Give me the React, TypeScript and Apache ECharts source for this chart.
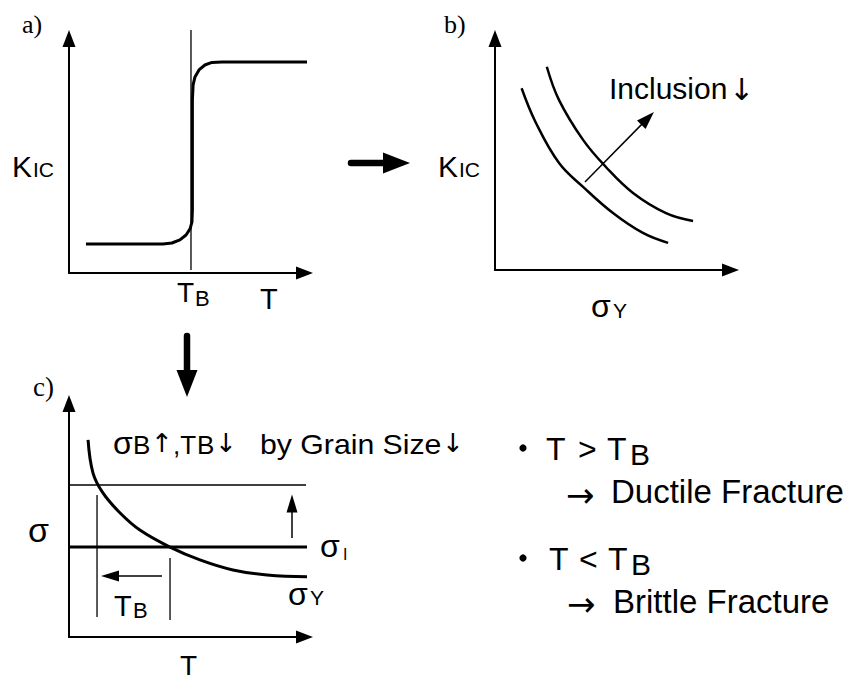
import React, { useEffect, useRef } from "react";
import * as echarts from "echarts";

// ---------- Panel a) : K_IC versus T (ductile-brittle transition) ----------
const aT = [0.72, 3.99, 4.37, 4.71, 4.97, 5.14, 5.22, 5.24, 5.24, 5.27, 5.35, 5.52, 5.77, 6.07, 6.5, 10.45];
const aK = [1.24, 1.24, 1.28, 1.41, 1.62, 1.88, 2.17, 2.69, 7.38, 8.02, 8.36, 8.66, 8.87, 8.98, 9.0, 9.0];
const aTB = 5.18;
const aTBSpan = [0.13, 10.36];

// ---------- Panel b) : K_IC versus sigma_Y ----------
const bLowX = [1.13, 1.74, 2.72, 3.74, 5.01, 6.28, 7.35];
const bLowY = [7.85, 6.35, 4.62, 3.59, 2.46, 1.6, 1.17];
const bHighX = [2.2, 2.72, 3.74, 4.71, 5.86, 7.26, 8.41];
const bHighY = [8.78, 7.34, 5.62, 4.45, 3.33, 2.46, 2.12];
const bArrowFrom = [3.82, 3.8];
const bArrowTo = [6.48, 6.55];

// ---------- Panel c) : sigma versus T ----------
const cT = [0.81, 1.02, 1.44, 2.17, 3.01, 4.29, 5.56, 6.96, 8.41, 10.53];
const cSigmaY = [8.44, 7.02, 6.17, 5.31, 4.58, 3.85, 3.3, 2.87, 2.66, 2.57];
const cSigmaLow = 3.85;
const cSigmaHigh = 6.51;
const cLowEnd = 10.45;
const cHighEnd = 10.36;
const cTBx = [1.19, 4.29];
const cTBSpan = [
  [0.86, 6.08],
  [0.73, 3.38],
];
const cLeftFrom = [3.95, 2.61];
const cLeftTo = [1.74, 2.61];
const cUpFrom = [9.47, 4.24];
const cUpTo = [9.47, 5.72];

const SANS = '"Liberation Sans", Arial, Helvetica, sans-serif';
const SERIF = '"Liberation Serif", "Times New Roman", serif';
const ARROWS = '"DejaVu Sans", sans-serif';

const pairs = (xs: number[], ys: number[]) => xs.map((x, i) => [x, ys[i]]);

const axis = (gridIndex: number) => ({
  type: "value",
  gridIndex,
  min: 0,
  max: 10,
  axisLine: {
    show: true,
    onZero: false,
    symbol: ["none", "triangle"],
    symbolSize: [13, 17],
    lineStyle: { color: "#000", width: 2 },
  },
  axisTick: { show: false },
  axisLabel: { show: false },
  splitLine: { show: false },
});

const line = (idx: number, xs: number[], ys: number[], width: number, smooth: boolean | number = false, extra: any = {}) => ({
  type: "line",
  xAxisIndex: idx,
  yAxisIndex: idx,
  data: pairs(xs, ys),
  symbol: "none",
  showSymbol: false,
  smooth,
  clip: false,
  silent: true,
  animation: false,
  lineStyle: { color: "#000", width },
  ...extra,
});

const arrowMark = (from: number[], to: number[], size: number[]) => ({
  silent: true,
  animation: false,
  symbol: ["none", "triangle"],
  symbolSize: size,
  label: { show: false },
  emphasis: { disabled: true },
  lineStyle: { color: "#000", width: 1.5, type: "solid" },
  itemStyle: { color: "#000" },
  data: [[{ coord: from }, { coord: to }]],
});

const txt = (x: number, y: number, text: string, fontSize: number, family = SANS, extra: any = {}) => ({
  type: "text",
  x,
  y,
  silent: true,
  ...extra,
  style: {
    text,
    x: 0,
    y: 0,
    fill: "#000",
    fontSize,
    fontFamily: family,
    align: "left",
    verticalAlign: "middle",
    textAlign: "left",
    textVerticalAlign: "middle",
  },
});

const option: any = {
  animation: false,
  backgroundColor: "#fff",
  grid: [
    { left: 69, top: 38.5, width: 235.5, height: 234.5 },
    { left: 495, top: 38.5, width: 235.5, height: 231.5 },
    { left: 69, top: 403.5, width: 235.5, height: 233.5 },
  ],
  xAxis: [axis(0), axis(1), axis(2)],
  yAxis: [axis(0), axis(1), axis(2)],
  series: [
    // a)
    line(0, aT, aK, 3),
    line(0, [aTB, aTB], aTBSpan, 1.3),
    // b)
    line(1, bLowX, bLowY, 2.5, 0.4),
    line(1, bHighX, bHighY, 2.5, 0.4, { markLine: arrowMark(bArrowFrom, bArrowTo, [12, 18]) }),
    // c)
    line(2, [0, cHighEnd], [cSigmaHigh, cSigmaHigh], 1.3),
    line(2, [0, cLowEnd], [cSigmaLow, cSigmaLow], 3, false, {
      markLine: {
        ...arrowMark(cLeftFrom, cLeftTo, [11, 18]),
        data: [
          [{ coord: cLeftFrom }, { coord: cLeftTo }],
          [{ coord: cUpFrom }, { coord: cUpTo }],
        ],
      },
    }),
    line(2, cT, cSigmaY, 3, 0.4),
    line(2, [cTBx[0], cTBx[0]], cTBSpan[0], 1.3),
    line(2, [cTBx[1], cTBx[1]], cTBSpan[1], 1.3),
  ],
  graphic: [
    // panel labels
    txt(22, 24, "a)", 26, SERIF),
    txt(444, 24, "b)", 26, SERIF),
    txt(33, 387, "c)", 27, SERIF),
    // a) axis titles
    txt(12, 166, "K", 30),
    txt(33, 169.5, "IC", 21),
    txt(177, 292, "T", 28),
    txt(195, 298.5, "B", 22),
    txt(260, 298.5, "T", 29),
    // b) axis titles
    txt(438, 166, "K", 30),
    txt(459, 169.5, "IC", 21),
    txt(591, 306, "σ", 32),
    txt(613, 310.5, "Y", 21),
    txt(609, 88, "Inclusion", 30),
    txt(729, 89, "↓", 30, ARROWS),
    // c) axis titles and labels
    txt(28, 530, "σ", 34),
    txt(180, 665, "T", 28),
    txt(114, 606, "T", 29),
    txt(133, 610.5, "B", 22),
    txt(288, 594, "σ", 32),
    txt(310, 597.5, "Y", 21),
    txt(320, 546, "σ", 32),
    txt(343, 554, "I", 16),
    // c) annotation
    txt(113, 442.5, "σ", 32),
    txt(133, 444.5, "B", 26),
    txt(151, 443, "↑", 26, ARROWS),
    txt(173, 444.5, ",T", 26),
    txt(197, 444.5, "B", 26),
    txt(215, 443, "↓", 26, ARROWS),
    txt(260, 444.5, "by Grain Size", 28, SANS, { scaleX: 1.08 }),
    txt(442, 443, "↓", 26, ARROWS),
    // right-hand notes
    { type: "circle", silent: true, shape: { cx: 523, cy: 448, r: 3.6 }, style: { fill: "#000" } },
    txt(546, 448.5, "T", 32),
    txt(578, 448.5, ">", 32),
    txt(607, 448.5, "T", 32),
    txt(630, 454, "B", 30),
    txt(566, 495, "→", 34, ARROWS),
    txt(611, 491.5, "Ductile Fracture", 33),
    { type: "circle", silent: true, shape: { cx: 523, cy: 558, r: 3.6 }, style: { fill: "#000" } },
    txt(549, 558.5, "T", 32),
    txt(579, 558.5, "<", 32),
    txt(608, 558.5, "T", 32),
    txt(631, 564, "B", 30),
    txt(567, 604, "→", 34, ARROWS),
    txt(613, 601.5, "Brittle Fracture", 33),
    // block arrows between panels
    {
      type: "line",
      silent: true,
      shape: { x1: 351, y1: 163, x2: 386, y2: 163 },
      style: { stroke: "#000", lineWidth: 6.5, lineCap: "round" },
    },
    {
      type: "polygon",
      silent: true,
      shape: { points: [[383, 152.5], [383, 173.5], [410, 163]] },
      style: { fill: "#000" },
    },
    {
      type: "line",
      silent: true,
      shape: { x1: 187, y1: 336, x2: 187, y2: 372 },
      style: { stroke: "#000", lineWidth: 6.5, lineCap: "round" },
    },
    {
      type: "polygon",
      silent: true,
      shape: { points: [[176.5, 370], [197.5, 370], [187, 397]] },
      style: { fill: "#000" },
    },
  ],
};

export default function App() {
  const ref = useRef<HTMLDivElement>(null);
  useEffect(() => {
    const el = ref.current;
    if (!el) return;
    const chart = echarts.init(el, null, { renderer: "svg", width: 852, height: 681 });
    chart.setOption(option);
    return () => chart.dispose();
  }, []);
  return (
    <div
      ref={ref}
      style={{ position: "absolute", left: 0, top: 0, width: 852, height: 681, background: "#fff" }}
    />
  );
}
